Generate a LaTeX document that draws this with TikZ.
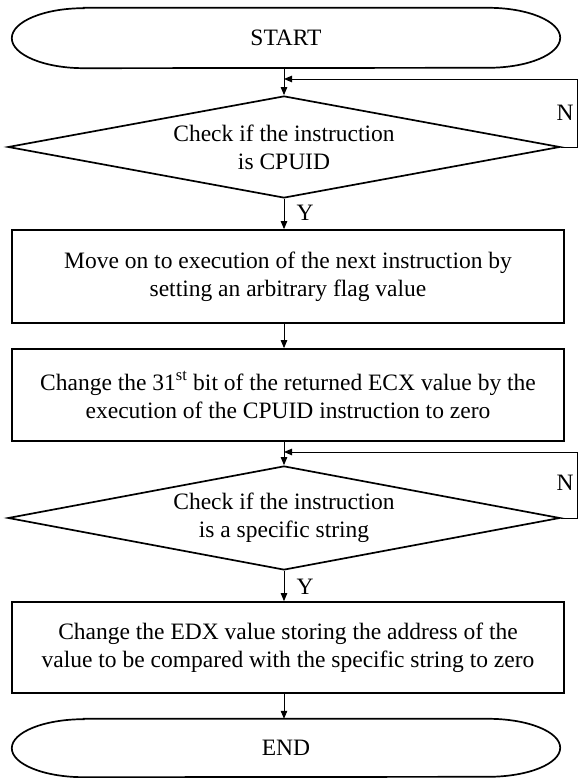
\documentclass[tikz,border=0pt]{standalone}
\usepackage{fontspec}
\setmainfont{Liberation Serif}
\usetikzlibrary{shapes.geometric,arrows.meta,calc}
\begin{document}
\begin{tikzpicture}[x=1pt,y=1pt,
  every node/.style={font=\fontsize{23.5}{28}\selectfont, align=center, inner sep=0pt},
  shapeline/.style={line width=1.7pt, draw=black},
  procbox/.style={shapeline, rectangle, minimum width=552pt},
  decision/.style={shapeline, diamond, aspect=5.5, minimum width=552pt},
  terminal/.style={rectangle, minimum width=548pt},
  conn/.style={line width=0.9pt, -{Triangle[length=8pt,width=6.5pt]}},
  lbl/.style={font=\fontsize{23.5}{28}\selectfont}]
\useasboundingbox (0,0) rectangle (578,778);

% terminals
\node[terminal, minimum height=60pt] (start) at (286,740) {START};
\draw[shapeline] ([xshift=72pt]start.north west) -- ([xshift=-72pt]start.north east)
  arc[start angle=90,end angle=-90,x radius=72pt,y radius=30pt]
  -- ([xshift=72pt]start.south west)
  arc[start angle=270,end angle=90,x radius=72pt,y radius=30pt] -- cycle;

\node[decision, minimum height=102pt] (d1) at (284,631) {Check if the instruction\\is CPUID};
\node[procbox, minimum height=93pt] (b1) at (288,501.5) {Move on to execution of the next instruction by\\setting an arbitrary flag value};
\node[procbox, minimum height=92pt] (b2) at (288,383) {Change the 31\textsuperscript{st} bit of the returned ECX value by the\\execution of the CPUID instruction to zero};
\node[decision, minimum height=104pt] (d2) at (284,260) {Check if the instruction\\is a specific string};
\node[procbox, minimum height=91pt] (b3) at (288,130.5) {Change the EDX value storing the address of the\\value to be compared with the specific string to zero};

\node[terminal, minimum height=58pt] (end) at (286,30) {END};
\draw[shapeline] ([xshift=72pt]end.north west) -- ([xshift=-72pt]end.north east)
  arc[start angle=90,end angle=-90,x radius=72pt,y radius=29pt]
  -- ([xshift=72pt]end.south west)
  arc[start angle=270,end angle=90,x radius=72pt,y radius=29pt] -- cycle;

% labels
\node[lbl] (n1) at (565,665) {N};
\node[lbl] (y1) at (305,565) {Y};
\node[lbl] (n2) at (565,295) {N};
\node[lbl] (y2) at (305,191) {Y};

% junctions
\coordinate (j1) at (d1.north |- 0,699);
\coordinate (j2) at (d2.north |- 0,326);
\coordinate (r1) at (577,631);
\coordinate (r2) at (577,260);

% connectors
\draw[conn] (start.south -| d1.north) -- (d1.north);
\draw[conn] (d1.south) -- (d1.south |- b1.north);
\draw[conn] (b1.south -| d1.south) -- (b2.north -| d1.south);
\draw[conn] (b2.south -| d2.north) -- (d2.north);
\draw[conn] (d2.south) -- (d2.south |- b3.north);
\draw[conn] (b3.south -| d2.south) -- (end.north -| d2.south);
\draw[conn] (d1.east) -- (r1) |- (j1);
\draw[conn] (d2.east) -- (r2) |- (j2);
\end{tikzpicture}
\end{document}
